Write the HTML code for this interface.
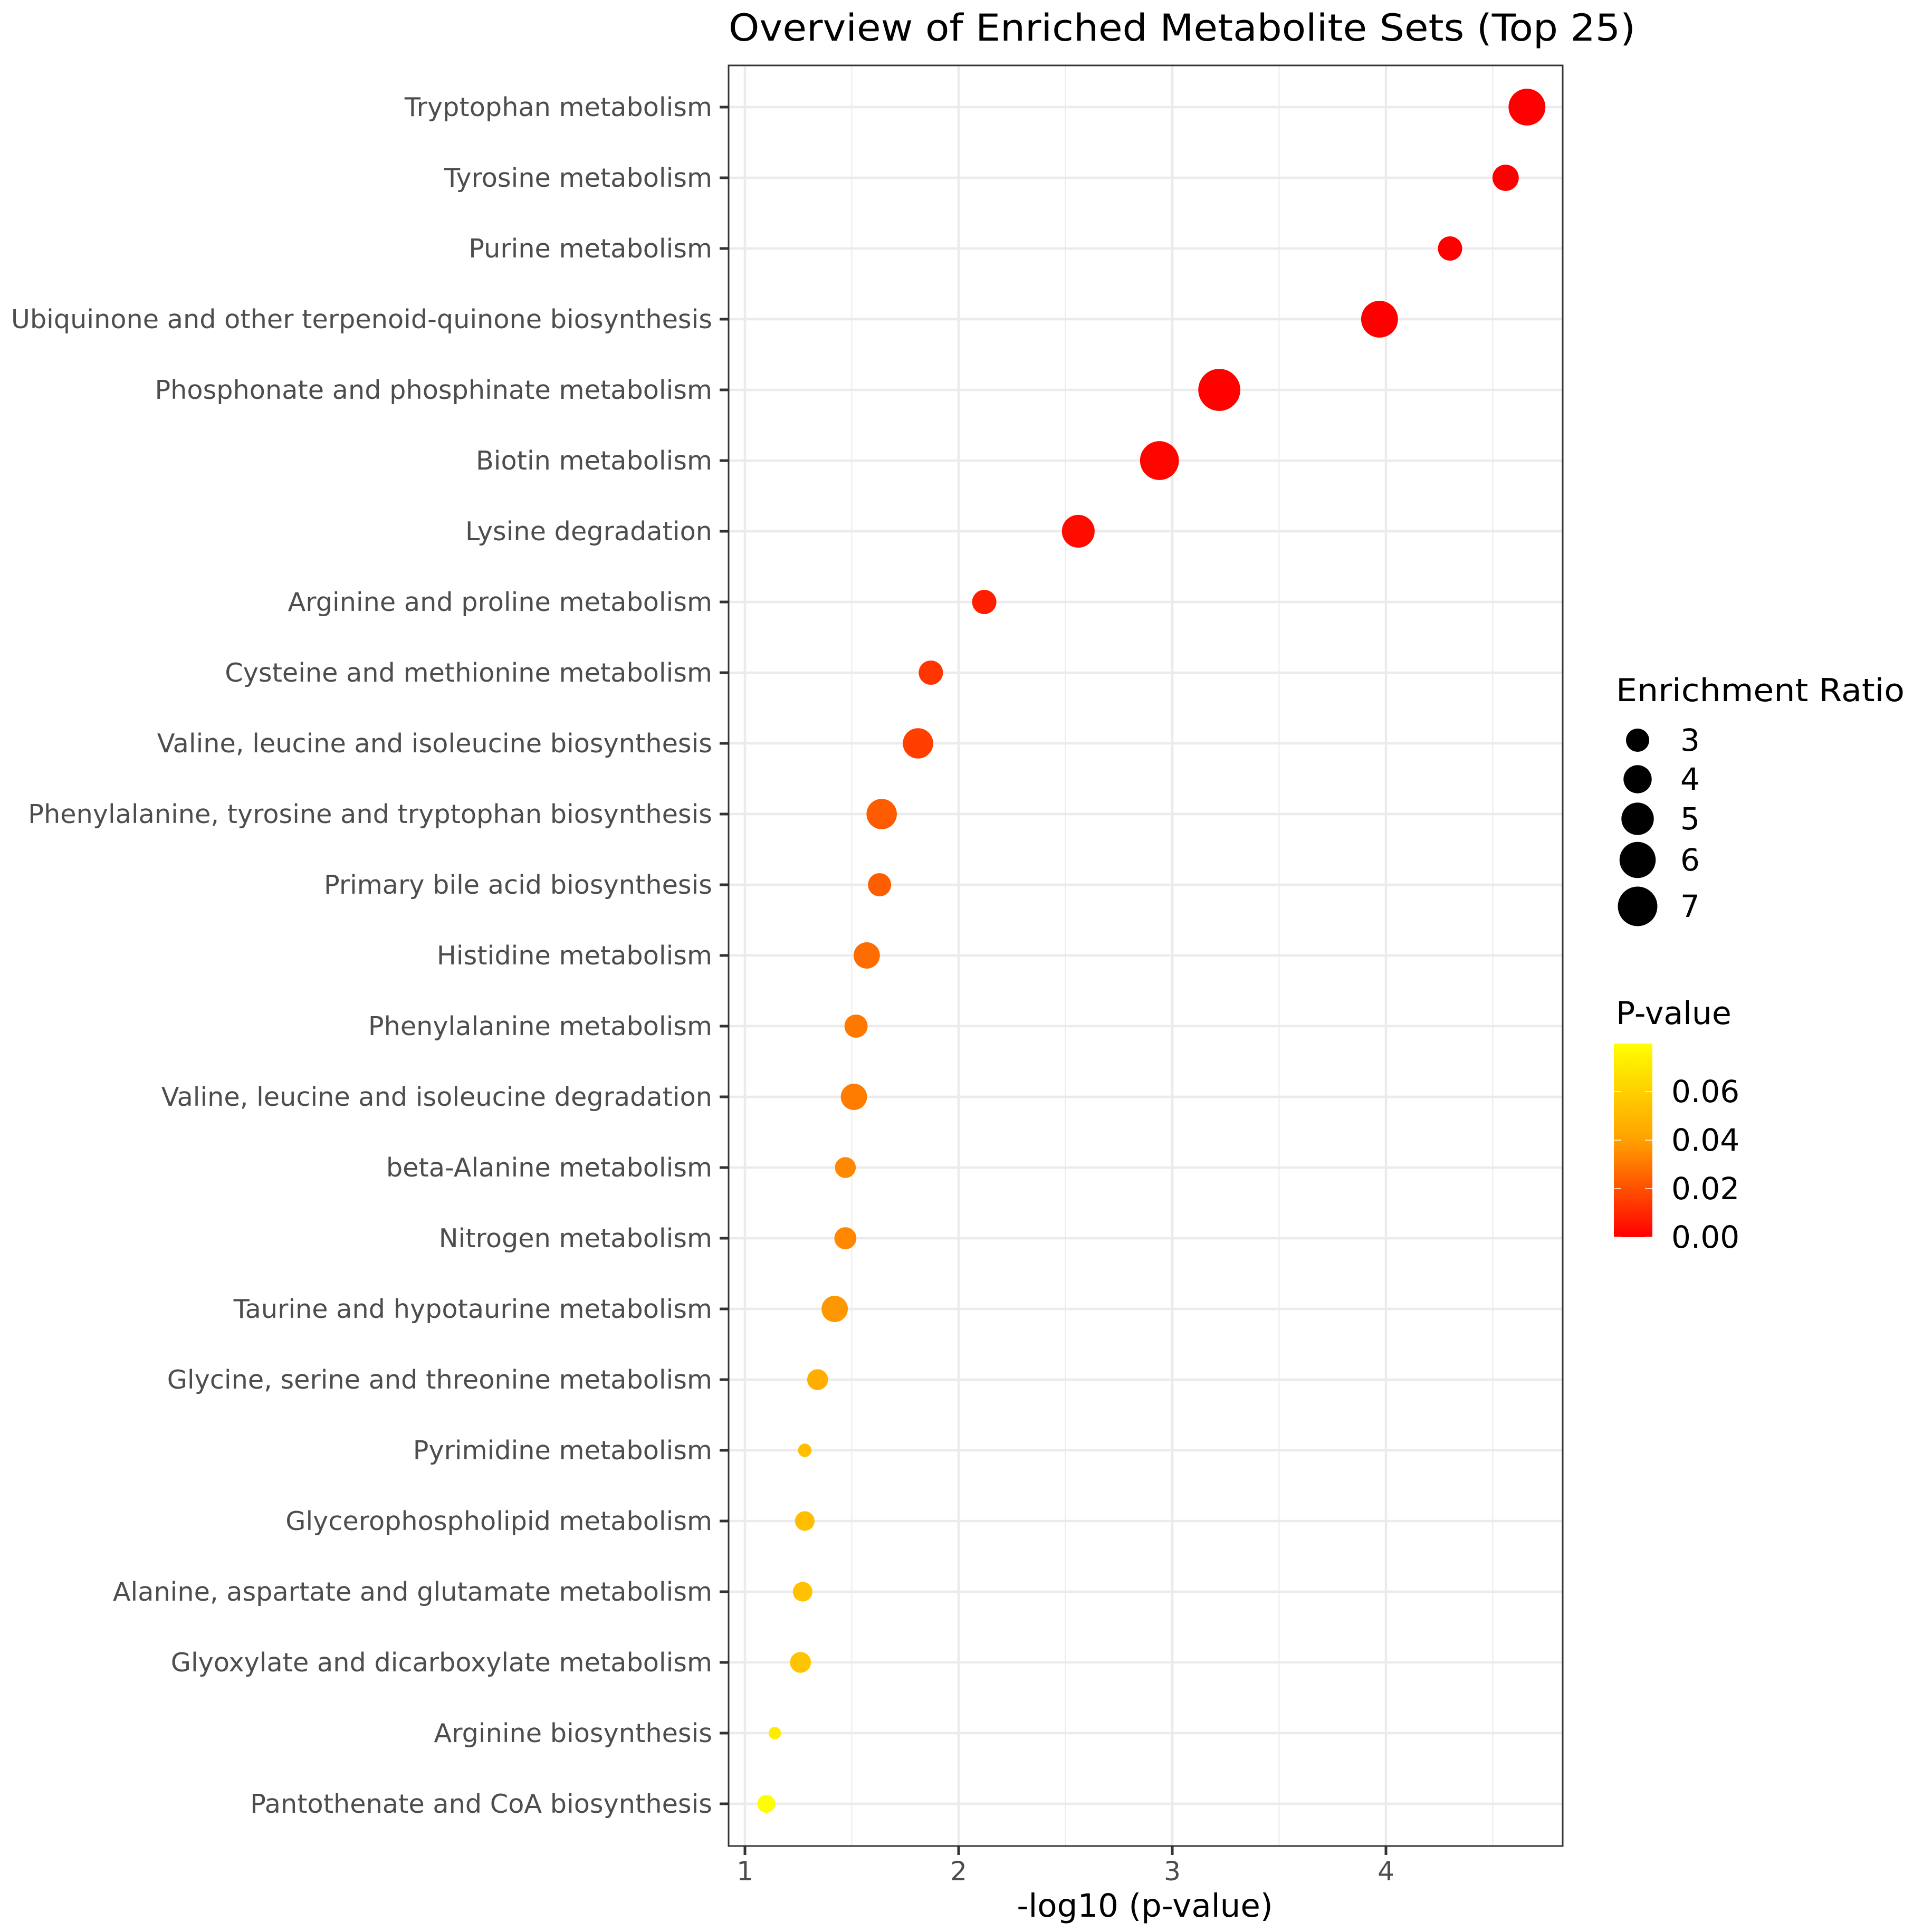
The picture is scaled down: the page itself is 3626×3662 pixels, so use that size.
<!DOCTYPE html>
<html><head><meta charset="utf-8"><style>
html,body{margin:0;padding:0;background:#fff}
svg{display:block;font-family:"DejaVu Sans","Liberation Sans",sans-serif}
</style></head><body>
<svg id="chart" width="3626" height="3662" viewBox="0 0 3626 3662" xmlns="http://www.w3.org/2000/svg">
<rect width="3626" height="3662" fill="#fff"/>
<text x="1381" y="77" font-size="70" textLength="1719" lengthAdjust="spacingAndGlyphs" fill="#000">Overview of Enriched Metabolite Sets (Top 25)</text>
<g id="grid"></g>
<g id="dots"></g>
<rect x="1381" y="124" width="1581" height="3375" fill="none" stroke="#333" stroke-width="3"/>
<g id="axes"></g>
<text x="2170" y="3633" font-size="61" text-anchor="middle" fill="#000">-log10 (p-value)</text>
<g id="legend"></g>
</svg>
<script>
const categories = ["Tryptophan metabolism","Tyrosine metabolism","Purine metabolism","Ubiquinone and other terpenoid-quinone biosynthesis","Phosphonate and phosphinate metabolism","Biotin metabolism","Lysine degradation","Arginine and proline metabolism","Cysteine and methionine metabolism","Valine, leucine and isoleucine biosynthesis","Phenylalanine, tyrosine and tryptophan biosynthesis","Primary bile acid biosynthesis","Histidine metabolism","Phenylalanine metabolism","Valine, leucine and isoleucine degradation","beta-Alanine metabolism","Nitrogen metabolism","Taurine and hypotaurine metabolism","Glycine, serine and threonine metabolism","Pyrimidine metabolism","Glycerophospholipid metabolism","Alanine, aspartate and glutamate metabolism","Glyoxylate and dicarboxylate metabolism","Arginine biosynthesis","Pantothenate and CoA biosynthesis"];
const negLogP = [4.66,4.56,4.30,3.97,3.22,2.94,2.56,2.12,1.87,1.81,1.64,1.63,1.57,1.52,1.51,1.47,1.47,1.42,1.34,1.28,1.28,1.27,1.26,1.14,1.10];
const enrichRatio = [6.2,3.6,3.2,6.2,7.8,6.8,5.1,3.2,3.2,4.5,4.5,3.0,3.6,3.0,3.6,2.6,2.8,3.6,2.6,1.6,2.4,2.4,2.6,1.5,2.15];
const xTicks = [1,2,3,4];
const xMinor = [1.5,2.5,3.5,4.5];
const sizeLegend = [3,4,5,6,7];
const colorTicks = [0.00,0.02,0.04,0.06];
const colorTickLabels = ["0.00","0.02","0.04","0.06"];
const pMax = 0.0798;

const NS="http://www.w3.org/2000/svg";
const PL=1381, PR=2962, PT=124, PB=3499;
function xs(v){return 1412+405*(v-1);}
function ys(i){return 203+134*i;}
function rs(er){return Math.sqrt(Math.max(60,484+230*(er-3)));}
function lerp(a,b,t){return Math.round(a+(b-a)*t);}
function col(p){
  let t=Math.max(0,Math.min(1,p/pMax));
  let g = t<0.5 ? lerp(0,160,t/0.5) : lerp(160,255,(t-0.5)/0.5);
  return `rgb(255,${g},0)`;
}
function mk(tag,attrs,parent){const e=document.createElementNS(NS,tag);for(const k in attrs)e.setAttribute(k,attrs[k]);parent.appendChild(e);return e;}

const grid=document.getElementById('grid');
xMinor.forEach(v=>{const l=mk('line',{x1:xs(v),x2:xs(v),y1:PT,y2:PB,stroke:'#ebebeb','stroke-width':2},grid);

});
xTicks.forEach(v=>{const l=mk('line',{x1:xs(v),x2:xs(v),y1:PT,y2:PB,stroke:'#ebebeb','stroke-width':4.5},grid);

});
categories.forEach((c,i)=>{const l=mk('line',{x1:PL,x2:PR,y1:ys(i),y2:ys(i),stroke:'#ebebeb','stroke-width':4.5},grid);

});

const dots=document.getElementById('dots');
categories.forEach((c,i)=>{
  const p=Math.pow(10,-negLogP[i]);
  const d=mk('circle',{cx:xs(negLogP[i]),cy:ys(i),r:rs(enrichRatio[i]),fill:col(p)},dots);
  
  
});

const axes=document.getElementById('axes');
categories.forEach((c,i)=>{
  const t=mk('line',{x1:PL-17,x2:PL,y1:ys(i),y2:ys(i),stroke:'#333','stroke-width':5},axes);
  
  
  const tx=mk('text',{x:1350,y:ys(i),'font-size':49.3,'text-anchor':'end','dominant-baseline':'central',fill:'#4d4d4d'},axes);
  tx.textContent=c;
  
  
});
xTicks.forEach(v=>{
  const t=mk('line',{x1:xs(v),x2:xs(v),y1:PB,y2:PB+17,stroke:'#333','stroke-width':5},axes);
  
  
  const tx=mk('text',{x:xs(v),y:3564,'font-size':50,'text-anchor':'middle',fill:'#4d4d4d'},axes);
  tx.textContent=String(v);
  
  
});

const lg=document.getElementById('legend');
const st=mk('text',{x:3063,y:1329,'font-size':60,textLength:547,lengthAdjust:'spacingAndGlyphs',fill:'#000'},lg);
st.textContent='Enrichment Ratio';


const sizeY=[1403,1477,1552,1630,1718];
sizeLegend.forEach((v,i)=>{
  const c=mk('circle',{cx:3104,cy:sizeY[i],r:rs(v),fill:'#000'},lg);
  
  
  const t=mk('text',{x:3185,y:sizeY[i],'font-size':58,'dominant-baseline':'central',fill:'#000'},lg);
  t.textContent=String(v);
  
  
});
const ct=mk('text',{x:3063,y:1941,'font-size':60,fill:'#000'},lg);
ct.textContent='P-value';


const defs=mk('defs',{},lg);
const gr=mk('linearGradient',{id:'pg',x1:0,y1:1,x2:0,y2:0},defs);
for(let k=0;k<=10;k++){mk('stop',{offset:k/10,'stop-color':col(pMax*k/10)},gr);}
const CB_T=1978, CB_B=2345;
function cy(p){return CB_B-(CB_B-CB_T)*p/pMax;}
const bar=mk('rect',{x:3059,y:CB_T,width:73,height:CB_B-CB_T,fill:'url(#pg)'},lg);


colorTicks.forEach((v,i)=>{
  mk('line',{x1:3059,x2:3073,y1:cy(v),y2:cy(v),stroke:'#fff','stroke-width':1.5},lg);
  mk('line',{x1:3118,x2:3132,y1:cy(v),y2:cy(v),stroke:'#fff','stroke-width':1.5},lg);
  const t=mk('text',{x:3168,y:cy(v),'font-size':58,'dominant-baseline':'central',fill:'#000'},lg);
  t.textContent=colorTickLabels[i];
  
  
});
</script>
</body></html>
